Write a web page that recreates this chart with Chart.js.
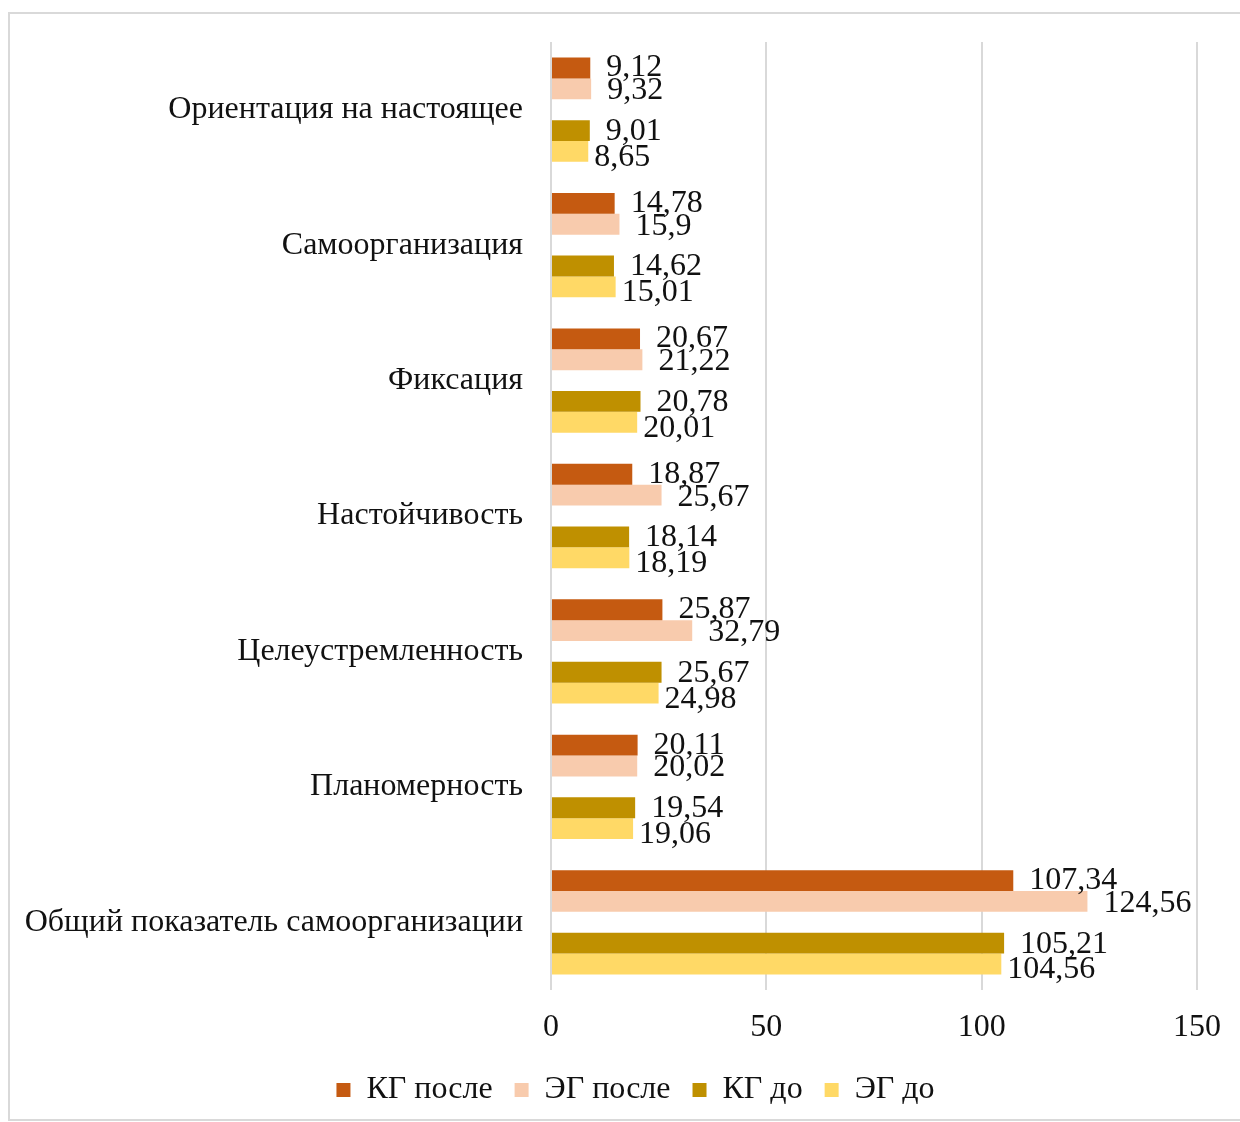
<!DOCTYPE html>
<html>
<head>
<meta charset="utf-8">
<script src="https://cdn.jsdelivr.net/npm/chart.js@4/dist/chart.umd.min.js"></script>
<style>
  html, body { margin: 0; padding: 0; background: #fff; }
  #wrap { position: absolute; left: 0; top: 0; width: 1240px; height: 1122px; }
</style>
</head>
<body>
<div id="wrap"><canvas id="chart" width="1240" height="1122"></canvas></div>
<script>
const categories = [
    'Ориентация на настоящее',
    'Самоорганизация',
    'Фиксация',
    'Настойчивость',
    'Целеустремленность',
    'Планомерность',
    'Общий показатель самоорганизации'
];
const kgAfter = [9.12, 14.78, 20.67, 18.87, 25.87, 20.11, 107.34];
const egAfter = [9.32, 15.9, 21.22, 25.67, 32.79, 20.02, 124.56];
const kgBefore = [9.01, 14.62, 20.78, 18.14, 25.67, 19.54, 105.21];
const egBefore = [8.65, 15.01, 20.01, 18.19, 24.98, 19.06, 104.56];
const xTicks = [0, 50, 100, 150];

const FONT = '"Liberation Serif", "Times New Roman", serif';

// рамка вокруг диаграммы, легенда чуть правее центра
const framePlugin = {
    id: 'frame',
    afterLayout(chart) {
        chart.legend.left += 37;
        chart.legend.right += 37;
    },
    beforeDraw(chart) {
        const c = chart.ctx;
        c.save();
        c.strokeStyle = '#d9d9d9';
        c.lineWidth = 2;
        c.strokeRect(9, 13, 1240, 1107);
        c.restore();
    }
};

// подписи значений справа от столбцов
const labelPlugin = {
    id: 'valueLabels',
    afterDatasetsDraw(chart) {
        const c = chart.ctx;
        c.save();
        c.font = '32px ' + FONT;
        c.fillStyle = '#111';
        c.textBaseline = 'middle';
        c.textAlign = 'left';
        chart.data.datasets.forEach((ds, i) => {
            if (!ds.showLabels) return;
            const meta = chart.getDatasetMeta(i);
            meta.data.forEach((bar, j) => {
                const v = ds.data[j];
                if (v == null) return;
                const txt = String(v).replace('.', ',');
                c.fillText(txt, bar.x + ds.labelDx, bar.y + ds.labelDy);
            });
        });
        c.restore();
    }
};

new Chart(document.getElementById('chart'), {
    type: 'bar',
    data: {
        labels: categories,
        datasets: [
            { label: 'КГ после', data: kgAfter, backgroundColor: '#C55A11', showLabels: true, labelDx: 16, labelDy: 0 },
            { label: 'ЭГ после', data: egAfter, backgroundColor: '#F8CBAD', showLabels: true, labelDx: 16, labelDy: 2 },
            { label: '', data: categories.map(() => null), backgroundColor: 'rgba(0,0,0,0)', showLabels: false },
            { label: 'КГ до', data: kgBefore, backgroundColor: '#BF9000', showLabels: true, labelDx: 16, labelDy: 1 },
            { label: 'ЭГ до', data: egBefore, backgroundColor: '#FFD966', showLabels: true, labelDx: 6, labelDy: 6 }
        ]
    },
    options: {
        indexAxis: 'y',
        responsive: false,
        animation: false,
        categoryPercentage: 0.77,
        barPercentage: 1.0,
        layout: { padding: { top: 42, right: 43, left: 0, bottom: 6 } },
        scales: {
            x: {
                min: 0,
                max: 150,
                afterBuildTicks(scale) {
                    scale.ticks = xTicks.map(v => ({ value: v }));
                },
                grid: { color: '#d9d9d9', lineWidth: 2, drawTicks: false },
                border: { display: false },
                ticks: {
                    color: '#111',
                    padding: 18,
                    font: { family: FONT, size: 32 }
                },
                afterFit(scale) { scale.height = 62; }
            },
            y: {
                grid: { display: false },
                border: { display: false },
                ticks: {
                    color: '#111',
                    padding: 20,
                    font: { family: FONT, size: 32 }
                },
                afterFit(scale) { scale.width = 551; }
            }
        },
        plugins: {
            legend: {
                position: 'bottom',
                labels: {
                    filter: item => item.text !== '',
                    color: '#111',
                    boxWidth: 14,
                    boxHeight: 14,
                    padding: 22,
                    font: { family: FONT, size: 32 }
                }
            },
            tooltip: { enabled: false }
        }
    },
    plugins: [framePlugin, labelPlugin]
});
</script>
</body>
</html>
